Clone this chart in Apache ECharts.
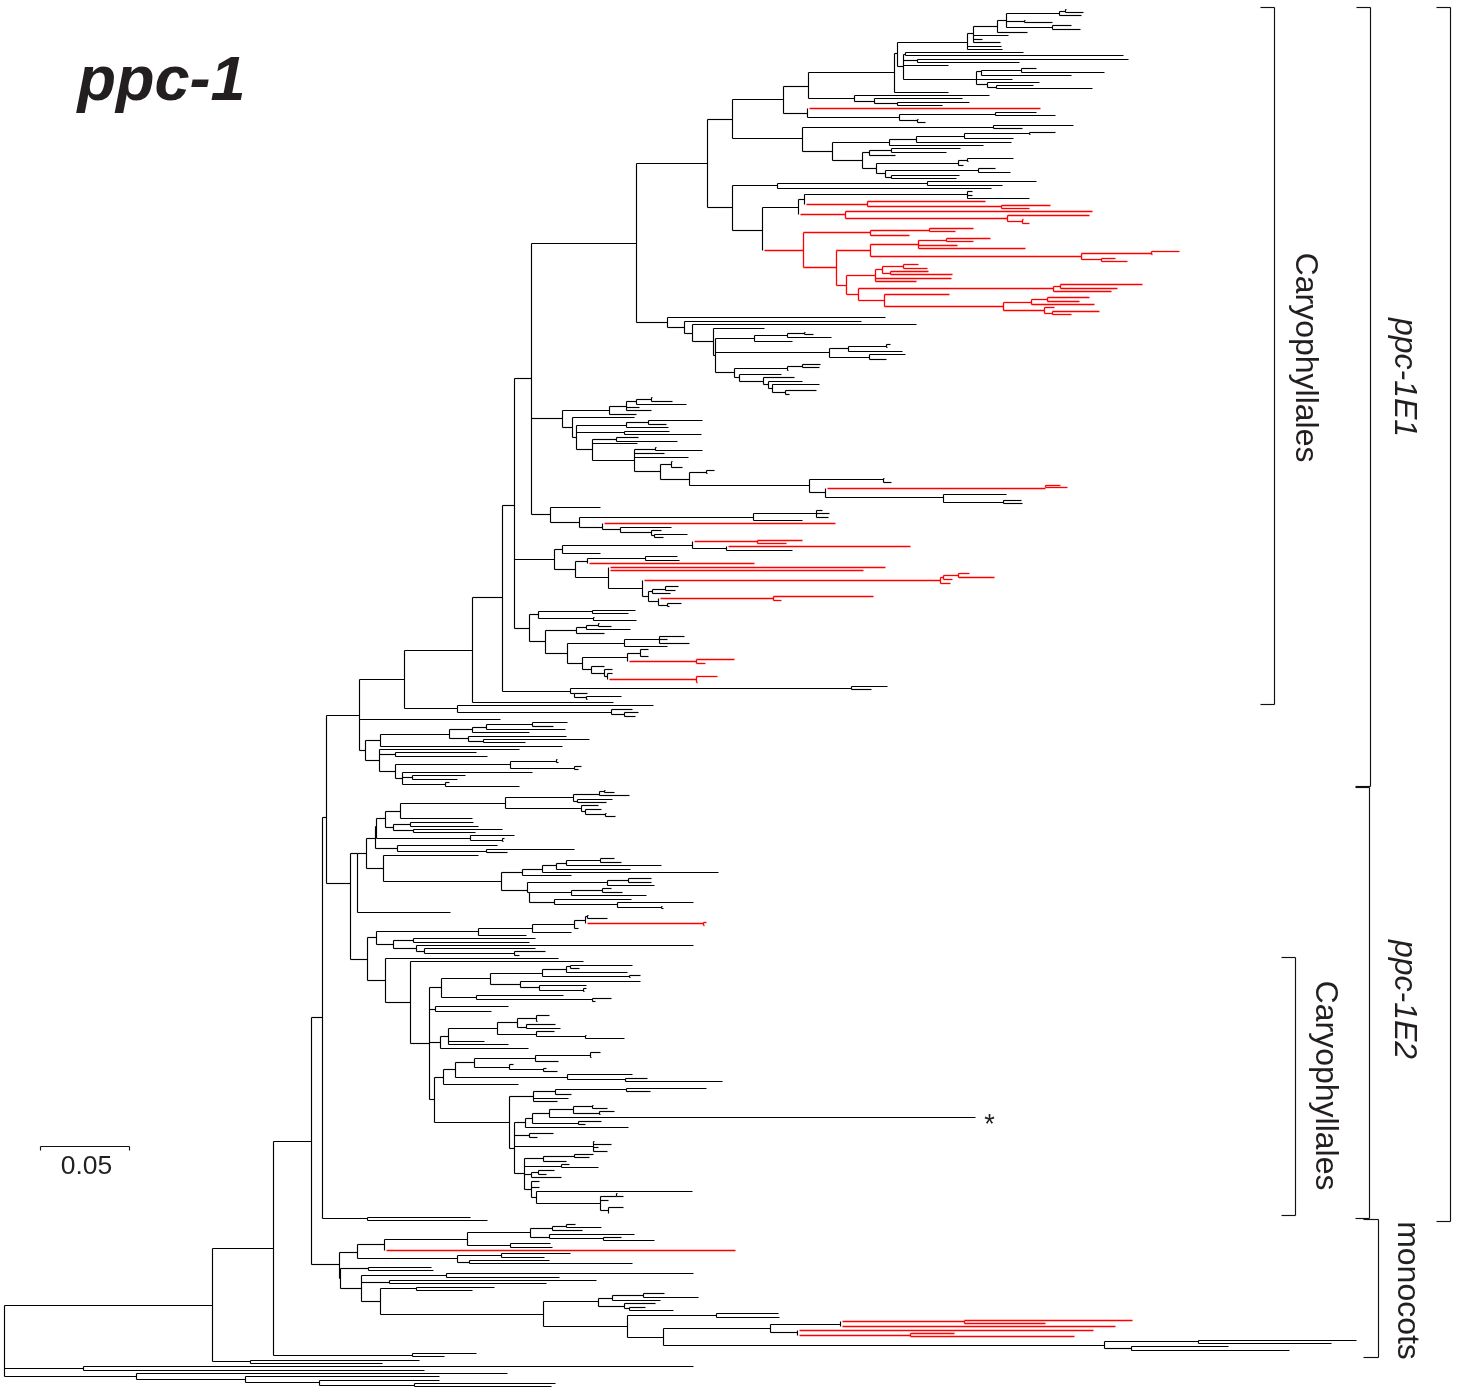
<!DOCTYPE html>
<html><head><meta charset="utf-8">
<style>html,body{margin:0;padding:0;background:#fff}#c{width:1469px;height:1390px}</style>
<script src="https://cdn.jsdelivr.net/npm/echarts@6/dist/echarts.min.js"></script>
</head><body><div id="c"></div>
<script>
// Tree nodes: [depth, row, ...children]; a leading 'r' marks a red subtree. Units are the read-off axis units.
const topA = [897,53,
  [967,42,[973,33,[997,26,[1006,20,[1059,13,[1065,11,[1066,9],[1083,12]],[1081,15]],[1024,21,[1025,20],[1052,22]],[1052,27,[1071,25],[1080,29]]],[1027,32]],[1008,35],[982,39],[1000,42]],[1001,46],[1002,49]],
  [903,66,[905,54,[1023,52],[1123,55]],[917,60,[1128,59],[1019,62]],[948,65],
    [976,79,[981,71,[1021,70,[1036,68],[1104,72]],[1071,75]],[1012,79],[987,84,[1039,82],[996,87,[1033,85],[1092,88]]]]]];
const topB = [783,99,
  [808,86,[894,72,topA,[948,92]],[854,98,[989,95],[874,101,[962,98],[897,103,[969,102],[942,105]]]]],
  [807,113,['r',1040,108],[899,117,[995,114,[1036,112],[1055,115]],[917,120,[918,119],[925,122]]]]];
const topC = [802,138,[993,127,[1073,125],[1022,128]],
  [832,151,[889,142,[916,139,[964,136,[1029,133,[1055,132],[1030,134]],[1013,138]],[1011,142]],[983,145]],
    [862,160,[869,152,[891,150,[960,148],[946,152]],[895,155]],
      [876,168,[958,163,[967,160,[1013,158],[968,161]],[963,165]],
        [885,173,[978,170,[995,168],[1010,172]],[891,177,[959,175],[956,178]]]]]]];
const redA = ['r',803,250,
  [870,232,[929,230,[973,228],[955,231]],[909,235]],
  [836,267,
    [870,250,[918,244,[946,240,[990,238],[973,241]],[957,245],[1025,248]],
      [1081,256,[1151,253,[1179,251],[1152,254]],[1101,259,[1115,258],[1127,261]]]],
    [846,285,
      [875,275,[882,269,[903,266,[918,264],[927,268]],[890,273,[928,271],[952,274]]],[951,278],[916,281]],
      [858,294,
        [1053,288,[1060,286,[1142,284],[1117,288]],[1111,291]],
        [884,300,[949,294],[1003,306,[1031,302,[1047,299,[1089,297],[1079,301]],[1094,304]],[1044,310,[1054,307],[1052,313,[1099,311],[1071,314]]]]]]]]];
const topD = [732,207,
  [777,185,[927,183,[1036,181],[1002,185]],[991,188]],
  [762,230,
    [798,207,
      [804,199,[967,194,[972,191],[972,195],[1029,198]],
        ['r',867,204,[985,201],[1001,206,[1050,205],[1029,208]]]],
      ['r',845,214,[1092,211],[1007,218,[1089,215],[1022,221,[1023,219],[1029,223]]]]],
    redA]];
const topE = [667,322,[885,317],
  [684,327,[861,321],
    [692,333,[916,324],
      [713,341,[764,328],
        [715,355,
          [754,338,[787,335,[804,333,[805,332],[813,334]],[831,337]],[792,341]],
          [829,352,[848,348,[886,346,[890,344],[887,347]],[902,351]],[869,357,[905,354],[886,359]]],
          [734,372,[787,368,[802,366,[820,364],[819,367]],[788,370]],
            [739,377,[781,374],[763,381,[794,377],[768,384,[802,381],[772,388,[819,384],[785,392,[816,390],[789,394]]]]]]]]]]]];
const cladeTop = [636,243,[707,163,[732,119,topB,topC],topD],topE];

const midA = [562,418,
  [609,410,[626,406,[636,401,[651,399,[652,397],[672,401]],[686,404]],[639,407],[651,410]],[636,414]],
  [572,427,[634,417],
    [576,437,[626,425,[648,422,[702,420],[666,424]],[668,427]],[624,432,[669,431],[701,434]],
      [592,449,[616,439,[638,437],[677,441]],[637,443],
        [634,460,[655,449,[656,447],[702,450]],[664,453],[688,457],
          [660,471,[671,464,[672,461],[682,467]],
            [689,479,[706,472,[714,470],[707,473]],
              [809,485,[883,479,[884,478],[891,482]],
                [825,492,['r',1045,488,[1060,485],[1067,487]],[943,497,[1006,494],[1003,502,[1021,500],[1022,503]]]]]]]]]]]];
const midB = [550,514,[600,507],
  [579,522,[753,517,[816,513,[822,510],[829,513],[828,517]],[802,520]],
    [602,527,['r',835,523],[620,529,[671,527],[651,532,[661,530],[654,535,[687,534],[663,537]]]]]]];
const midC = [554,559,
  [562,549,[692,545,['r',757,541,[802,540],[786,543]],[726,548,['r',910,546],[792,550]]],[600,553]],
  [575,569,[587,561,[645,558,[677,556],[679,560]],['r',754,563]],
    [608,577,['r',885,567],['r',863,570],
      [642,588,['r',940,580,[943,577,[958,575,[969,573],[994,577]],[952,579]],[950,583]],
        [648,596,[652,591,[665,589,[678,586],[675,590]],[670,593]],
          [658,601,['r',773,598,[873,596],[781,600]],[667,605,[681,603],[669,606]]]]]]]];
const midD = [529,628,
  [538,614,[592,611,[635,610],[628,613]],[593,618,[594,617],[636,620]]],
  [545,641,[576,630,[586,627,[598,625,[599,623],[611,626]],[630,629]],[604,633]],
    [567,653,[624,643,[659,639,[684,636],[667,639],[689,643]],[667,646]],
      [582,663,[627,657,[640,653,[648,649],[648,656]],['r',696,661,[734,659],[705,663]]],
        [591,669,[604,666],[604,673,[612,669],[607,676,[612,673],['r',696,679,[717,676],[697,682]]]]]]]]];
const midE = [570,691,[851,688,[887,686],[871,689]],[574,693,[587,693],[586,697,[621,696],[587,699]]]];
const cladeMid = [472,650,[502,597,[514,505,[531,378,cladeTop,midA,midB],midC,midD],midE],[613,702]];

const lowA = [365,750,
  [380,740,[449,734,[472,729,[486,727,[532,724,[567,722],[553,726]],[565,729]],[529,732]],[468,738,[566,736],[483,741,[589,739],[525,742]]]],[562,746]],
  [379,760,[519,749],[395,754,[476,752],[487,756]],
    [395,771,[510,764,[556,761,[557,759],[558,762]],[574,768,[581,766],[578,769]]],
      [402,778,[532,772],[412,777,[465,775],[457,779]],[445,784,[449,782],[519,786]]]]]];
const cladeD = [359,715,[404,679,cladeMid,[457,708,[653,705],[611,712,[632,709],[624,714,[638,712],[635,716]]]]],[500,719],lowA];

const e2A = [366,853,
  [375,838,
    [376,826,
      [385,818,
        [400,811,
          [505,803,
            [573,797,[599,794,[604,791,[605,790],[614,792]],[629,795]],[577,801,[612,799],[606,802]]],
            [581,808,[598,805],[585,811,[601,809],[605,814,[606,813],[615,816]]]]],
          [472,818]],
        [393,827,[410,824,[473,822],[478,826]],[413,830,[502,829],[475,832]]]],
      [470,838,[514,835],[502,840,[504,838],[503,841]]]],
    [397,848,[497,845],[486,851,[574,849],[507,852]]]],
  [383,868,[478,855],
    [501,881,
      [522,872,[542,869,[556,865,[566,863,[600,860,[614,858],[621,862]],[661,865]],[630,869]],[718,872]],[571,875]],
      [527,890,[607,882,[628,880,[651,878],[651,882]],[654,885]],
        [529,892,[571,892,[602,890,[611,888],[622,892]],[646,895]],
          [554,902,[631,899],[617,904,[693,902],[661,907,[662,906],[663,908]]]]]]]]];
const e2B = [376,937,
  [478,931,[532,928,[574,924,[585,920,[587,916,[588,915],[607,918]],['r',703,923,[706,922],[704,925]]],[578,928]],[571,932]],[526,935]],
  [393,944,[413,940,[535,938],[529,942]],[416,948,[693,945],[424,951,[535,948],[514,953,[545,951],[519,955]]]]]];
const e2C = [441,987,
  [490,978,[542,973,[566,969,[570,966,[632,965],[579,968]],[627,972]],[629,976,[640,975],[630,977]]],
    [520,984,[640,981],[539,987,[586,985],[583,990,[586,988],[584,991]]]]],
  [476,997,[563,995],[592,999,[611,998],[595,1001]]]];
const e2D = [440,1042,
  [448,1036,[497,1028,[517,1022,[536,1018,[549,1015],[537,1021]],[526,1027,[555,1024],[560,1028]]],[536,1034,[554,1031],[585,1036,[586,1035],[624,1038]]]],[484,1041],[508,1044]],
  [528,1048]];
const e2E = [443,1077,
  [455,1069,
    [474,1062,[535,1058,[590,1055,[600,1052],[591,1057]],[558,1061]],[509,1067,[513,1064],[543,1069,[546,1068],[557,1071]]]],
    [567,1077,[632,1074],[625,1079,[647,1078],[722,1081]]]],
  [518,1084]];
const e2F = [509,1122,
  [533,1096,[555,1091,[626,1089,[706,1088],[650,1091]],[571,1094]],[568,1098],[557,1101]],
  [514,1148,
    [525,1122,[532,1118,[549,1113,[573,1109,[592,1106,[593,1105],[607,1108]],[599,1113,[614,1111],[600,1114]]],[975,1117]],[578,1123,[601,1121],[585,1124]]],[628,1127]],
    [529,1135,[553,1133],[537,1137]],
    [593,1146,[594,1141],[611,1144],[598,1147],[607,1151]],
    [524,1173,
      [543,1158,[574,1156,[593,1154],[589,1157]],[566,1161]],
      [561,1166,[569,1164],[598,1167]],
      [531,1174,[538,1172,[554,1170],[546,1174]],[561,1177]],
      [531,1189,[539,1181],[539,1187],
        [536,1197,[692,1191],
          [600,1203,[616,1196,[617,1193],[623,1196]],[608,1200],[608,1210,[623,1207],[608,1213]]]]]]]];
const cladeE2Lower = [385,980,[558,958],
  [410,1002,[583,961],[429,1043,e2C,[435,1009,[508,1006],[491,1011]],e2D,[434,1099,e2E,e2F]]]];
const cladeE2 = [326,817,cladeD,
  [350,883,[357,853,e2A,[450,912]],[367,959,e2B,cladeE2Lower]]];

const monoA = [357,1252,
  [384,1244,
    [467,1239,
      [530,1232,[552,1228,[566,1226,[575,1224],[601,1227]],[582,1230]],[549,1237,[634,1234],[603,1238,[621,1237],[654,1240]]]],
      [510,1245,[550,1243],[552,1247]]],
    ['r',735,1250]],
  [457,1258,[501,1255,[570,1253],[544,1257]],[469,1262,[549,1260],[632,1263]]]];
const monoB = [543,1314,
  [598,1301,[612,1298,[643,1295,[664,1293],[698,1297]],[660,1300]],[624,1306,[655,1303],[629,1308,[645,1307],[673,1310]]]],
  [627,1326,[716,1315,[778,1313],[779,1317]],
    [663,1337,
      [770,1328,
        [840,1324,['r',964,1321,[1132,1320],[1045,1323]],['r',1115,1326]],
        [797,1332,['r',1093,1330],['r',910,1335,[954,1333],[1074,1336]]]],
      [1104,1345,[1198,1341,[1356,1340],[1331,1343]],[1131,1348,[1228,1346],[1289,1350]]]]]];
const monoC = [339,1264,monoA,
  [340,1278,[368,1268,[431,1267],[433,1270]],
    [361,1288,[446,1275,[693,1273],[559,1277]],[389,1282,[596,1280],[546,1283]],
      [380,1301,[416,1288,[494,1287],[472,1290]],monoB]]]];
const outgroupA = [250,1361,[419,1360],[382,1363]];
const outgroupB = [83,1368,[693,1366],[424,1370]];
const outgroupC = [136,1376,[507,1373],[245,1379,[439,1376],[319,1382,[439,1380],[414,1385,[555,1383],[551,1386]]]]];
const treeRoot = [4,1340,
  [212,1305,
    [273,1248,
      [311,1141,[322,1017,cladeE2,[367,1218,[470,1217],[487,1220]]],monoC],
      [412,1355,[476,1353],[444,1356]]],
    outgroupA],
  outgroupB,outgroupC];

const bracketLines = [
  [1260,7,1274,7],[1274,7,1274,704],[1260,704,1274,704],
  [1356,7,1370,7],[1370,7,1370,786],[1355,786,1370,786],
  [1436,7,1450,7],[1450,7,1450,1221],[1436,1221,1450,1221],
  [1355,787,1369,787],[1369,787,1369,1218],[1355,1218,1369,1218],
  [1363,1219,1378,1219],[1378,1219,1378,1357],[1363,1357,1378,1357],
  [1281,957,1295,957],[1295,957,1295,1215],[1281,1215,1295,1215]
];
const scaleBar = [[40,1146,129,1146],[40,1146,40,1150],[129,1146,129,1150]];
const labels = [
  {t:'ppc-1',x:161,y:82,size:63,weight:'bold',style:'italic',rot:0},
  {t:'0.05',x:86,y:1166,size:26.5,weight:'normal',style:'normal',rot:0},
  {t:'*',x:989,y:1125,size:27,weight:'normal',style:'normal',rot:0},
  {t:'Caryophyllales',x:1304,y:357,size:32,weight:'normal',style:'normal',rot:-90},
  {t:'Caryophyllales',x:1324,y:1085,size:32,weight:'normal',style:'normal',rot:-90},
  {t:'ppc-1E1',x:1403,y:377,size:32,weight:'normal',style:'italic',rot:-90},
  {t:'ppc-1E2',x:1403,y:999,size:32,weight:'normal',style:'italic',rot:-90},
  {t:'monocots',x:1406,y:1290,size:32,weight:'normal',style:'normal',rot:-90}
];

const blackSegs=[], redSegs=[];
function walk(node,parentX,parentRed){
  const own=node[0]==='r', a=own?node.slice(1):node, x=a[0], y=a[1], kids=a.slice(2), red=parentRed||own;
  if(parentX!=null)(red?redSegs:blackSegs).push([own&&!parentRed?parentX+2:parentX,y,x,y]);
  if(kids.length){
    const ys=kids.map(k=>k[0]==='r'?k[2]:k[1]);
    (red?redSegs:blackSegs).push([x,Math.min(...ys),x,Math.max(...ys)]);
    kids.forEach(k=>walk(k,x,red));
  }
}
walk(treeRoot,null,false);

const seg=(arr,color,w)=>({type:'custom',coordinateSystem:'cartesian2d',silent:true,animation:false,clip:false,
  encode:{x:[0,2],y:[1,3]},data:arr,
  renderItem:(params,api)=>{
    const a=api.coord([api.value(0),api.value(1)]), b=api.coord([api.value(2),api.value(3)]);
    return {type:'line',silent:true,shape:{x1:a[0],y1:a[1],x2:b[0],y2:b[1]},style:{stroke:color,lineWidth:w,lineCap:'butt',fill:null}};
  }});
const axis=(max,inv)=>({type:'value',min:-0.5,max:max-0.5,inverse:inv,show:false,splitLine:{show:false}});
const chart=echarts.init(document.getElementById('c'));
chart.setOption({
  animation:false,backgroundColor:'#fff',
  grid:{left:0,right:0,top:0,bottom:0,containLabel:false},
  xAxis:axis(1469,false),yAxis:axis(1390,true),
  series:[
    seg(blackSegs,'#000',1.15),seg(redSegs,'#f00',1.3),seg(bracketLines,'#111',1.15),seg(scaleBar,'#111',1.15),
    {type:'scatter',silent:true,animation:false,symbolSize:0,itemStyle:{opacity:1},
     data:labels.map(l=>({value:[l.x,l.y],label:{show:true,opacity:1,position:'inside',formatter:l.t,rotate:l.rot,align:'center',verticalAlign:'middle',
       fontFamily:'"Liberation Sans",Arial,sans-serif',fontSize:l.size,fontWeight:l.weight,fontStyle:l.style,color:'#231f20'}}))}
  ]
});
</script></body></html>
